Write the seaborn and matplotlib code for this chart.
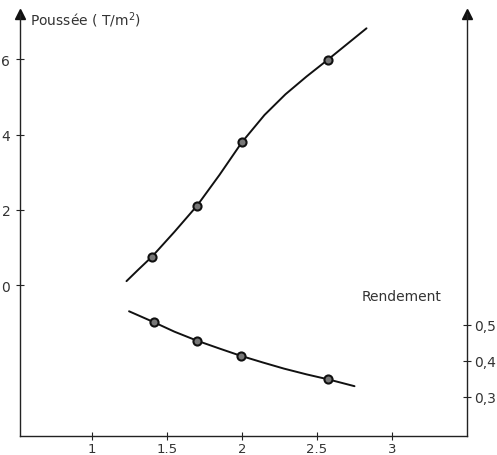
import matplotlib
matplotlib.use("Agg")
import matplotlib.pyplot as plt
import seaborn as sns
import pandas as pd

# ---- data ----
# measured points
x_points = [1.40, 1.70, 2.00, 2.57]
poussee_points = [0.76, 2.11, 3.80, 5.98]
x_points_r = [1.41, 1.70, 1.99, 2.575]
rendement_points = [0.508, 0.456, 0.414, 0.348]

# traced curves
x_curve_p = [1.23, 1.31, 1.40, 1.55, 1.70, 1.85, 2.00, 2.15, 2.29, 2.43, 2.57, 2.70, 2.83]
poussee_curve = [0.11, 0.42, 0.76, 1.42, 2.11, 2.93, 3.80, 4.52, 5.07, 5.54, 5.98, 6.40, 6.82]
x_curve_r = [1.247, 1.41, 1.55, 1.70, 1.85, 1.99, 2.14, 2.28, 2.43, 2.575, 2.75]
rendement_curve = [0.538, 0.508, 0.481, 0.456, 0.434, 0.414, 0.395, 0.378, 0.362, 0.348, 0.329]

x_ticks = [1, 1.5, 2, 2.5, 3]
x_ticklabels = ["1", "1.5", "2", "2.5", "3"]
left_ticks = [0, 2, 4, 6]
left_ticklabels = ["0", "2", "4", "6"]
right_ticks = [0.3, 0.4, 0.5]
right_ticklabels = ["0,3", "0,4", "0,5"]

sns.set_theme(style="white")
plt.rcParams["font.family"] = ["DejaVu Sans"]

fig = plt.figure(figsize=(4.97, 4.56), dpi=100)
ax = fig.add_axes([20 / 497, 19 / 456, 447 / 497, 422 / 456])
ax2 = ax.twinx()

ink = "#111111"
txt = "#333333"

df_pc = pd.DataFrame({"x": x_curve_p, "y": poussee_curve})
df_pp = pd.DataFrame({"x": x_points, "y": poussee_points})
df_rc = pd.DataFrame({"x": x_curve_r, "y": rendement_curve})
df_rp = pd.DataFrame({"x": x_points_r, "y": rendement_points})

sns.lineplot(data=df_pc, x="x", y="y", ax=ax, color=ink, linewidth=1.4, sort=False)
sns.scatterplot(data=df_pp, x="x", y="y", ax=ax, s=34, color="#777777",
                edgecolor=ink, linewidth=1.5, zorder=5)
sns.lineplot(data=df_rc, x="x", y="y", ax=ax2, color=ink, linewidth=1.4, sort=False)
sns.scatterplot(data=df_rp, x="x", y="y", ax=ax2, s=34, color="#777777",
                edgecolor=ink, linewidth=1.5, zorder=5)

ax.set_xlim(0.52, 3.5)
ax.set_ylim(-4.0, 7.2)
ax2.set_ylim(0.19, 1.3675)

for a in (ax, ax2):
    a.set_xlabel("")
    a.set_ylabel("")
    a.spines["top"].set_visible(False)
    for s in a.spines.values():
        s.set_color("#222222")
        s.set_linewidth(1.0)

ax.spines["right"].set_visible(False)
ax2.spines["left"].set_visible(False)
ax2.spines["bottom"].set_visible(False)

ax.set_xticks(x_ticks)
ax.set_xticklabels(x_ticklabels)
ax.set_yticks(left_ticks)
ax.set_yticklabels(left_ticklabels)
ax2.set_yticks(right_ticks)
ax2.set_yticklabels(right_ticklabels)

ax.tick_params(axis="x", direction="inout", length=6, width=0.8, color="#222222",
               labelsize=9.5, labelcolor=txt, pad=1, bottom=True)
ax.tick_params(axis="y", direction="inout", length=6, width=0.8, color="#222222",
               labelsize=10, labelcolor=txt, pad=4, left=True)
ax2.tick_params(axis="y", direction="inout", length=6, width=0.8, color="#222222",
                labelsize=10, labelcolor=txt, pad=2, right=True)

# arrow heads at the top of the vertical axes
ax.plot([0], [1], marker="^", color="#111111", markersize=7,
        transform=ax.transAxes, clip_on=False)
ax2.plot([1], [1], marker="^", color="#111111", markersize=7,
         transform=ax2.transAxes, clip_on=False)

ax.text(0.022, 0.987, "Poussée ( T/m$^2$)", transform=ax.transAxes,
        ha="left", va="center", fontsize=10, color=txt)
ax2.text(0.765, 0.332, "Rendement", transform=ax2.transAxes,
         ha="left", va="center", fontsize=10, color=txt)

fig.savefig("out.png", dpi=100)
